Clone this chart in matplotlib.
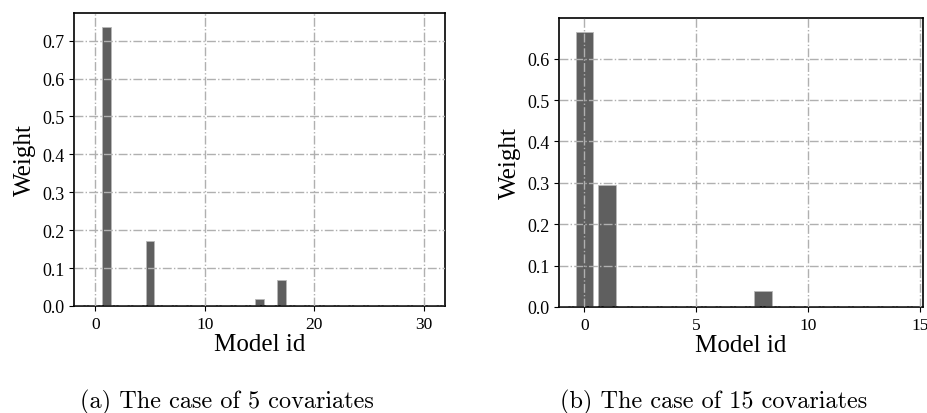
import matplotlib.pyplot as plt
import numpy as np

# weights for the 5-covariate case (31 candidate models)
ids_a = np.arange(31)
w_a = np.zeros(31)
w_a[1] = 0.736
w_a[5] = 0.172
w_a[15] = 0.019
w_a[17] = 0.068

# weights for the 15-covariate case (15 candidate models)
ids_b = np.arange(15)
w_b = np.zeros(15)
w_b[0] = 0.665
w_b[1] = 0.295
w_b[8] = 0.039

captions = ["(a) The case of 5 covariates", "(b) The case of 15 covariates"]

fig = plt.figure(figsize=(9.28, 4.14), dpi=100)
ax1 = fig.add_axes([74/928, 1-307/414, 371/928, 293/414])
ax2 = fig.add_axes([559/928, 1-308/414, 364/928, 289/414])

serif = ["Liberation Serif", "DejaVu Serif"]
cm = ["cmr10", "DejaVu Serif"]

for ax, ids, w, xt, yt in [(ax1, ids_a, w_a, [0, 10, 20, 30], np.arange(0, 0.71, 0.1)),
                           (ax2, ids_b, w_b, [0, 5, 10, 15], np.arange(0, 0.61, 0.1))]:
    ax.bar(ids, w, width=0.8, color="#5f5f5f", edgecolor="#b8b8b8", linewidth=0.6)
    ax.set_axisbelow(False)
    ax.grid(True, linestyle="-.", color="#b0b0b0", linewidth=1.0)
    ax.set_xticks(xt)
    ax.set_yticks(yt)
    ax.set_yticklabels(["%.1f" % v for v in yt], family=serif, fontsize=13)
    ax.set_xticklabels([str(v) for v in xt], family=serif, fontsize=12.5)
    ax.set_ylabel("Weight", family=serif, fontsize=18, labelpad=4)
    ax.set_xlabel("Model id", family=serif, fontsize=18, labelpad=1)
    for s in ax.spines.values():
        s.set_linewidth(1.2)

ax2.set_xlim(-1.14, 15.14)

fig.text(227/928, 1-402/414, captions[0], family=cm, fontsize=17.5, ha="center", va="center")
fig.text(714/928, 1-402/414, captions[1], family=cm, fontsize=17.5, ha="center", va="center")

fig.savefig("out.png", dpi=100)
